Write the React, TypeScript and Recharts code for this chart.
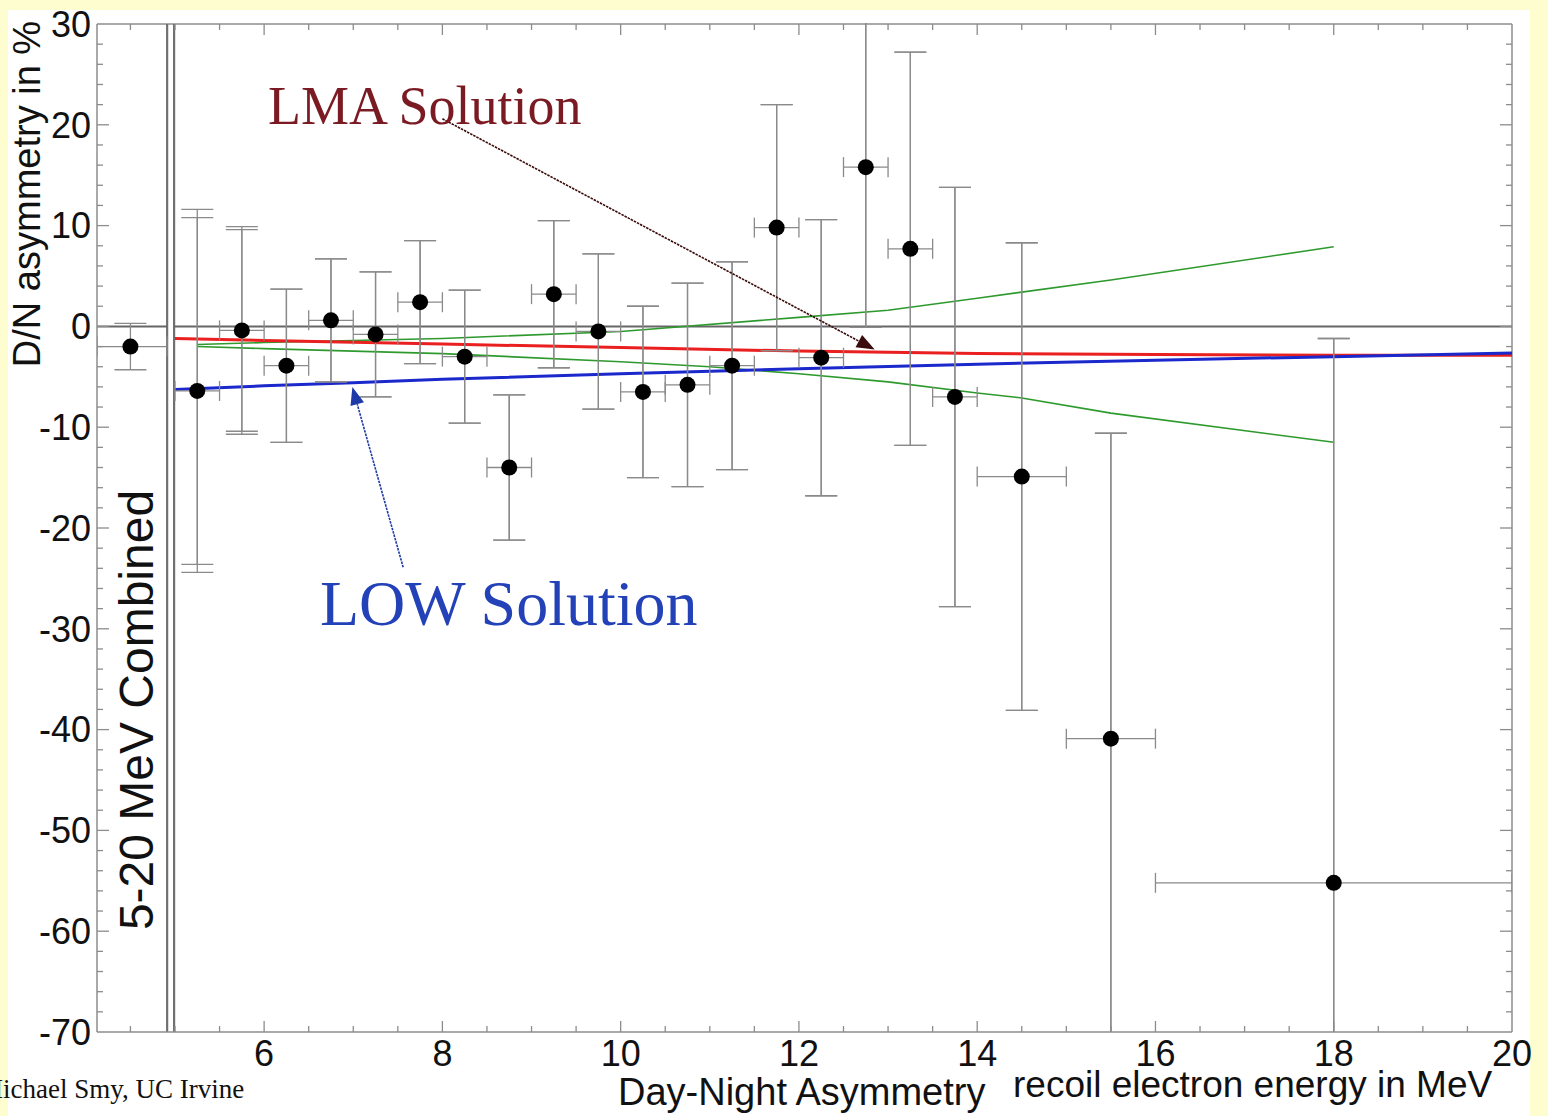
import React from 'react';
import {
  ComposedChart,
  Scatter,
  Line,
  XAxis,
  YAxis,
  ErrorBar,
  ReferenceLine,
  ReferenceDot,
} from 'recharts';

// ---------- data ----------
const energy = [5.25, 5.75, 6.25, 6.75, 7.25, 7.75, 8.25, 8.75, 9.25, 9.75, 10.25, 10.75, 11.25, 11.75, 12.25, 12.75, 13.25, 13.75, 14.5, 15.5, 18];
const asymmetry = [-6.4, -0.4, -3.9, 0.6, -0.8, 2.4, -3.0, -14.0, 3.2, -0.5, -6.5, -5.8, -3.9, 9.8, -3.1, 15.8, 7.7, -7.0, -14.9, -40.9, -55.2];
const asymErr = [18, 10.3, 7.6, 6.1, 6.2, 6.1, 6.6, 7.2, 7.3, 7.7, 8.5, 10.1, 10.3, 12.2, 13.7, 15.9, 19.5, 20.8, 23.2, 30.3, 54];
const asymStatErr = [17.2, 10.0, 7.6, 6.1, 6.2, 6.1, 6.6, 7.2, 7.3, 7.7, 8.5, 10.1, 10.3, 12.2, 13.7, 15.9, 19.5, 20.8, 23.2, 30.3, 54];
const binHalfWidth = [0.25, 0.25, 0.25, 0.25, 0.25, 0.25, 0.25, 0.25, 0.25, 0.25, 0.25, 0.25, 0.25, 0.25, 0.25, 0.25, 0.25, 0.25, 0.5, 0.5, 2];

const combinedX = [4.5];
const combinedY = [-2.0];
const combinedErr = [2.3];
const combinedXErr: [number, number][] = [[0.375, 0.41]];

const lmaX = [5, 6, 8, 10, 12, 14, 16, 18, 20];
const lmaY = [-1.2, -1.4, -1.75, -2.1, -2.45, -2.7, -2.8, -2.85, -2.85];

const lowX = [5, 6, 7, 8, 10, 12, 14, 16, 18, 20];
const lowY = [-6.25, -5.9, -5.6, -5.25, -4.7, -4.2, -3.75, -3.35, -3.0, -2.65];

const bandUpX = [5.25, 6, 8, 10, 12, 13, 14, 14.5, 15.5, 18];
const bandUpY = [-1.8, -1.6, -1.2, -0.5, 0.9, 1.6, 2.8, 3.4, 4.6, 7.9];
const bandLoX = [5.25, 6, 8, 10, 11, 12, 13, 14, 14.5, 15.5, 18];
const bandLoY = [-2.0, -2.2, -2.7, -3.5, -4.0, -4.7, -5.5, -6.6, -7.1, -8.6, -11.5];

const xTickLabels = [6, 8, 10, 12, 14, 16, 18, 20];
const yTickLabels = [-70, -60, -50, -40, -30, -20, -10, 0, 10, 20, 30];

// ---------- derived tables ----------
const points = energy.map((e, i) => ({ x: e, y: asymmetry[i], ey: asymErr[i], es: asymStatErr[i], ex: binHalfWidth[i] }));
const combined = combinedX.map((e, i) => ({ x: e, y: combinedY[i], ey: combinedErr[i], ex: combinedXErr[i] }));
const toXY = (xs: number[], ys: number[]) => xs.map((x, i) => ({ x, y: ys[i] }));
const lmaData = toXY(lmaX, lmaY);
const lowData = toXY(lowX, lowY);
const bandUp = toXY(bandUpX, bandUpY);
const bandLo = toXY(bandLoX, bandLoY);

const X_MIN = 4.125;
const X_MAX = 20;
const Y_MIN = -70;
const Y_MAX = 30;

const xMinorTicks: number[] = [];
for (let v = 4.5; v < 20; v += 0.5) if (!(Number.isInteger(v) && v % 2 === 0)) xMinorTicks.push(v);
const xMajorTicks = [6, 8, 10, 12, 14, 16, 18];
const yMinorTicks: number[] = [];
for (let v = -68; v < 30; v += 2) if (v % 10 !== 0) yMinorTicks.push(v);
const yMajorTicks = [-60, -50, -40, -30, -20, -10, 0, 10, 20];

const FRAME = '#8c8c8c';
const SANS = '"Liberation Sans", Arial, Helvetica, sans-serif';
const SERIF = '"Liberation Serif", "Times New Roman", serif';

const W = 1548;
const H = 1116;
const M = { top: 24, right: 36, bottom: 84, left: 97 };

const tickShape = (side: 'top' | 'bottom' | 'left' | 'right', len: number) => (p: any) => {
  const { cx, cy } = p;
  let x2 = cx, y2 = cy;
  if (side === 'bottom') y2 = cy - len;
  if (side === 'top') y2 = cy + len;
  if (side === 'left') x2 = cx + len;
  if (side === 'right') x2 = cx - len;
  return <line x1={cx} y1={cy} x2={x2} y2={y2} stroke={FRAME} strokeWidth={1.3} />;
};

const arrowShape = (color: string, width: number) => (p: any) => {
  const { x1, y1, x2, y2 } = p;
  if ([x1, y1, x2, y2].some((v) => v == null || isNaN(v))) return <g />;
  const ang = Math.atan2(y2 - y1, x2 - x1);
  const hl = 18, hw = 7;
  const bx = x2 - hl * Math.cos(ang), by = y2 - hl * Math.sin(ang);
  const nx = -Math.sin(ang) * hw, ny = Math.cos(ang) * hw;
  return (
    <g>
      <line x1={x1} y1={y1} x2={bx} y2={by} stroke={color} strokeWidth={width} strokeDasharray="2.5 1" />
      <polygon points={`${x2},${y2} ${bx + nx},${by + ny} ${bx - nx},${by - ny}`} fill={color} />
    </g>
  );
};

const dotShape = (p: any) => <circle cx={p.cx} cy={p.cy} r={8} fill="#000" />;
const noDot = () => <g />;

export default function App() {
  const ticks: React.ReactNode[] = [];
  xMinorTicks.forEach((v, i) => {
    ticks.push(<ReferenceDot key={`xb${i}`} x={v} y={Y_MIN} ifOverflow="visible" shape={tickShape('bottom', 6)} />);
    ticks.push(<ReferenceDot key={`xt${i}`} x={v} y={Y_MAX} ifOverflow="visible" shape={tickShape('top', 6)} />);
  });
  xMajorTicks.forEach((v, i) => {
    ticks.push(<ReferenceDot key={`Xb${i}`} x={v} y={Y_MIN} ifOverflow="visible" shape={tickShape('bottom', 11)} />);
    ticks.push(<ReferenceDot key={`Xt${i}`} x={v} y={Y_MAX} ifOverflow="visible" shape={tickShape('top', 11)} />);
  });
  yMinorTicks.forEach((v, i) => {
    ticks.push(<ReferenceDot key={`yl${i}`} x={X_MIN} y={v} ifOverflow="visible" shape={tickShape('left', 6)} />);
    ticks.push(<ReferenceDot key={`yr${i}`} x={X_MAX} y={v} ifOverflow="visible" shape={tickShape('right', 6)} />);
  });
  yMajorTicks.forEach((v, i) => {
    ticks.push(<ReferenceDot key={`Yl${i}`} x={X_MIN} y={v} ifOverflow="visible" shape={tickShape('left', 12)} />);
    ticks.push(<ReferenceDot key={`Yr${i}`} x={X_MAX} y={v} ifOverflow="visible" shape={tickShape('right', 12)} />);
  });

  return (
    <div style={{ position: 'absolute', left: 0, top: 0, width: W, height: H, background: '#fdfdd0', overflow: 'hidden' }}>
      <div style={{ position: 'absolute', left: 8, top: 10, width: 1522, height: 1106, background: '#ffffff' }} />
      {/* axes, frame, theory curves */}
      <div style={{ position: 'absolute', left: 0, top: 0 }}>
        <ComposedChart width={W} height={H} margin={{ top: M.top, right: M.right, bottom: 0, left: 0 }}>
          <XAxis
            type="number"
            dataKey="x"
            domain={[X_MIN, X_MAX]}
            allowDataOverflow
            ticks={xTickLabels}
            interval={0}
            height={M.bottom}
            tickLine={false}
            tickSize={0}
            tickMargin={8}
            axisLine={{ stroke: FRAME, strokeWidth: 1.5 }}
            tick={{ fontSize: 36, fontFamily: SANS, fill: '#111' }}
          />
          <YAxis
            type="number"
            dataKey="y"
            domain={[Y_MIN, Y_MAX]}
            allowDataOverflow
            ticks={yTickLabels}
            interval={0}
            width={M.left}
            tickLine={false}
            tickSize={0}
            tickMargin={6}
            axisLine={{ stroke: FRAME, strokeWidth: 1.5 }}
            tick={{ fontSize: 36, fontFamily: SANS, fill: '#111' }}
          />
          <ReferenceLine y={Y_MAX} stroke={FRAME} strokeWidth={1.5} ifOverflow="visible" />
          <ReferenceLine x={X_MAX} stroke={FRAME} strokeWidth={1.5} ifOverflow="visible" />
          {ticks}
          <ReferenceLine x={4.912} stroke="#707070" strokeWidth={2.2} />
          <ReferenceLine x={4.99} stroke="#707070" strokeWidth={2.2} />
          <ReferenceLine segment={[{ x: X_MIN, y: 0 }, { x: 4.912, y: 0 }]} stroke="#666" strokeWidth={2} />
          <ReferenceLine segment={[{ x: 4.99, y: 0 }, { x: X_MAX, y: 0 }]} stroke="#666" strokeWidth={2} />

          <Line data={bandUp} dataKey="y" type="linear" stroke="#2e9a2e" strokeWidth={1.6} dot={false} isAnimationActive={false} />
          <Line data={bandLo} dataKey="y" type="linear" stroke="#2e9a2e" strokeWidth={1.6} dot={false} isAnimationActive={false} />
          <Line data={lmaData} dataKey="y" type="linear" stroke="#ea1f1f" strokeWidth={3} dot={false} isAnimationActive={false} />
          <Line data={lowData} dataKey="y" type="linear" stroke="#1a28cc" strokeWidth={3} dot={false} isAnimationActive={false} />
        </ComposedChart>
      </div>
      {/* measured points, clipped to the plot frame */}
      <div
        style={{
          position: 'absolute',
          left: 0,
          top: 0,
          clipPath: `inset(${M.top - 1}px ${M.right}px ${M.bottom}px ${M.left}px)`,
        }}
      >
        <ComposedChart width={W} height={H} margin={M}>
          <XAxis type="number" dataKey="x" domain={[X_MIN, X_MAX]} allowDataOverflow hide />
          <YAxis type="number" dataKey="y" domain={[Y_MIN, Y_MAX]} allowDataOverflow hide />
          <Scatter data={points} dataKey="y" shape={noDot} isAnimationActive={false}>
            <ErrorBar dataKey="es" direction="y" width={16} stroke="#8a8a8a" strokeWidth={1.3} />
          </Scatter>
          <Scatter data={points} dataKey="y" shape={dotShape} isAnimationActive={false}>
            <ErrorBar dataKey="ey" direction="y" width={16} stroke="#8a8a8a" strokeWidth={1.3} />
            <ErrorBar dataKey="ex" direction="x" width={10} stroke="#8a8a8a" strokeWidth={1.3} />
          </Scatter>
          <Scatter data={combined} dataKey="y" shape={dotShape} isAnimationActive={false}>
            <ErrorBar dataKey="ey" direction="y" width={16} stroke="#8a8a8a" strokeWidth={1.3} />
            <ErrorBar dataKey="ex" direction="x" width={10} stroke="#8a8a8a" strokeWidth={1.3} />
          </Scatter>
        </ComposedChart>
      </div>
      {/* annotation arrows */}
      <div style={{ position: 'absolute', left: 0, top: 0 }}>
        <ComposedChart width={W} height={H} margin={M}>
          <XAxis type="number" dataKey="x" domain={[X_MIN, X_MAX]} allowDataOverflow hide />
          <YAxis type="number" dataKey="y" domain={[Y_MIN, Y_MAX]} allowDataOverflow hide />
          <ReferenceLine
            segment={[{ x: 8.0, y: 20.6 }, { x: 12.85, y: -2.3 }]}
            ifOverflow="visible"
            shape={arrowShape('#3b0b0b', 1.6)}
          />
          <ReferenceLine
            segment={[{ x: 7.56, y: -23.9 }, { x: 6.99, y: -6.0 }]}
            ifOverflow="visible"
            shape={arrowShape('#1d3aa8', 1.6)}
          />
        </ComposedChart>
      </div>
      <svg width={W} height={H} style={{ position: 'absolute', left: 0, top: 0, pointerEvents: 'none' }}>
        <text x={268} y={124} fontFamily={SERIF} fontSize={54} fill="#7a1a22">LMA Solution</text>
        <text x={320} y={625} fontFamily={SERIF} fontSize={64} fill="#2442b8">LOW Solution</text>
        <text
          x={27}
          y={194}
          transform="rotate(-90 27 194)"
          textAnchor="middle"
          dominantBaseline="central"
          fontFamily={SANS}
          fontSize={38}
          fill="#111"
        >
          D/N asymmetry in %
        </text>
        <text
          x={136}
          y={710}
          transform="rotate(-90 136 710)"
          textAnchor="middle"
          dominantBaseline="central"
          fontFamily={SANS}
          fontSize={48}
          fill="#111"
        >
          5-20 MeV Combined
        </text>
        <text x={618} y={1105} fontFamily={SANS} fontSize={38} fill="#111">Day-Night Asymmetry</text>
        <text x={1013} y={1097} fontFamily={SANS} fontSize={37} fill="#111">recoil electron energy in MeV</text>
        <text x={-21} y={1098} fontFamily={SERIF} fontSize={27} fill="#111">Michael Smy, UC Irvine</text>
      </svg>
    </div>
  );
}
